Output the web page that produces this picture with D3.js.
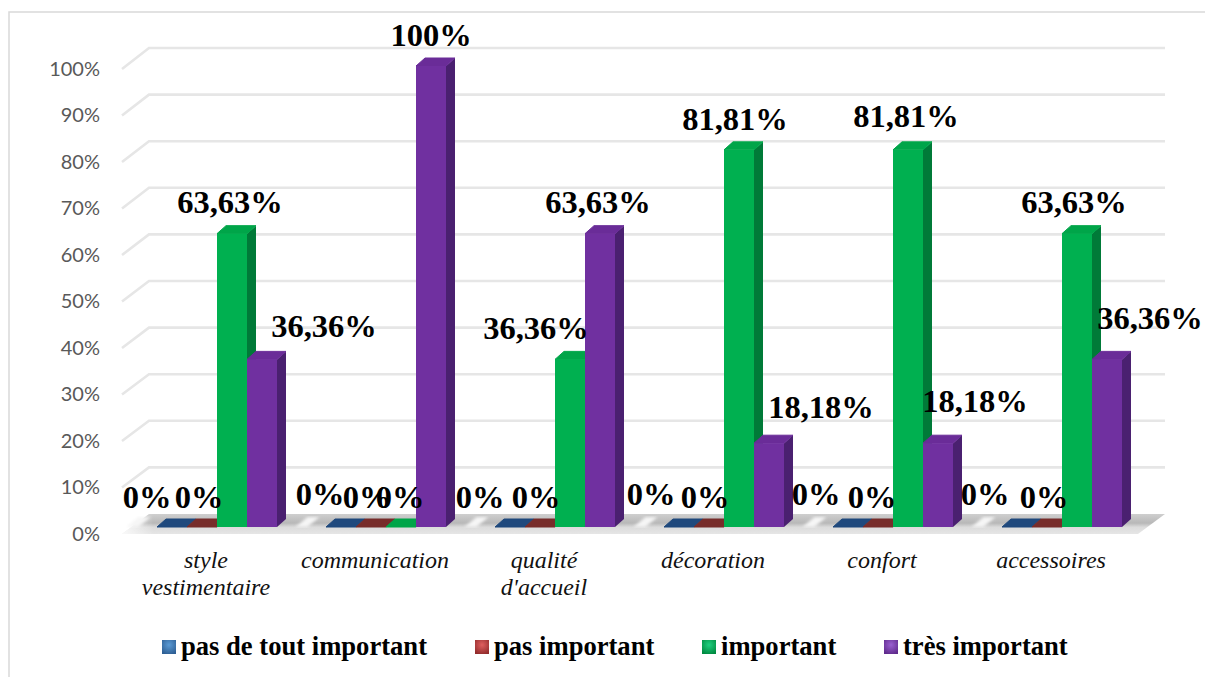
<!DOCTYPE html>
<html>
<head>
<meta charset="utf-8">
<script src="https://cdn.jsdelivr.net/npm/d3@7"></script>
<style>
  html, body { margin: 0; padding: 0; background: #fff; }
  svg { display: block; }
  .tick-y text { font-family: Lato, sans-serif; font-size: 20px; fill: #595959; }
  .cat text { font-family: "Liberation Serif", serif; font-style: italic; font-size: 24px; fill: #111; }
  .value { font-family: "Liberation Serif", serif; font-weight: bold; font-size: 32.5px; fill: #000; text-anchor: middle; }
  .legend text { font-family: "Liberation Serif", serif; font-weight: bold; font-size: 26.6px; fill: #000; }
</style>
</head>
<body>
<div id="chart"></div>
<script>
// Data
const categories = ['style vestimentaire', 'communication', "qualité d'accueil", 'décoration', 'confort', 'accessoires']
const seriesNames = ['pas de tout important', 'pas important', 'important', 'très important']
const pasDeToutImportant = [0, 0, 0, 0, 0, 0]
const pasImportant = [0, 0, 0, 0, 0, 0]
const important = [63.63, 0, 36.36, 81.81, 81.81, 63.63]
const tresImportant = [36.36, 100, 63.63, 18.18, 18.18, 36.36]
const yTicks = [0, 10, 20, 30, 40, 50, 60, 70, 80, 90, 100]

const allSeries = [pasDeToutImportant, pasImportant, important, tresImportant]

// Colours per series: front, side, top
const barColors = [
  { front: '#1f497d', side: '#17365d', top: '#1f497d' },
  { front: '#772c2a', side: '#5a1f1e', top: '#772c2a' },
  { front: '#00b050', side: '#007a38', top: '#00a549' },
  { front: '#7030a0', side: '#4a2070', top: '#6a2c98' }
]
const swatchLight = ['#5b9bd5', '#e06060', '#20d080', '#9a60d0']
const swatchDark = ['#2e5f94', '#922c2c', '#008a40', '#5f2a8c']

// Canvas
const width = 1205,
  height = 677

// 3d look of the plot box
const depth = { x: 27, y: 20 }
const barDepth = { x: 9, y: 8 }
const wallLeft = 149,
  wallRight = 1165

let svg = d3.select('#chart')
  .append('svg')
  .attr('width', width)
  .attr('height', height)

let defs = svg.append('defs')

// Scales
const wallY = d3.scaleLinear().domain([0, 100]).range([514, 48])
const frontY = d3.scaleLinear().domain([0, 100]).range([534, 69])
const barY = d3.scaleLinear().domain([0, 100]).range([527, 66])
const xBand = d3.scaleBand().domain(categories).range([132.5, 1146.5])
const xInner = d3.scaleBand().domain(d3.range(4)).range([24.5, 144.5])

// Outer frame
svg.append('path')
  .attr('d', `M9,${height} V12 H${width}`)
  .attr('fill', 'none')
  .attr('stroke', '#d9d9d9')
  .attr('stroke-width', 1.5)

// Gridlines on the wall and the slanted side
svg.append('g').selectAll('path')
  .data(yTicks.slice(1))
  .enter()
  .append('path')
  .attr('d', d => `M${wallLeft - depth.x},${frontY(d)} L${wallLeft},${wallY(d)} H${wallRight}`)
  .attr('fill', 'none')
  .attr('stroke', '#e6e6e6')
  .attr('stroke-width', 2.6)

// Floor
let floorFill = defs.append('linearGradient')
  .attr('id', 'floorFill')
  .attr('x1', 0).attr('x2', 0).attr('y1', 0).attr('y2', 1)
floorFill.append('stop').attr('offset', 0).attr('stop-color', '#cfcfcf')
floorFill.append('stop').attr('offset', 0.45).attr('stop-color', '#b8b8b8')
floorFill.append('stop').attr('offset', 0.66).attr('stop-color', '#dcdcdc')
floorFill.append('stop').attr('offset', 1).attr('stop-color', '#e6e6e6')

let floorEdge = defs.append('linearGradient')
  .attr('id', 'floorEdge')
  .attr('x1', 0).attr('x2', 1).attr('y1', 0).attr('y2', 0)
floorEdge.append('stop').attr('offset', 0).attr('stop-color', '#fff').attr('stop-opacity', 0.8)
floorEdge.append('stop').attr('offset', 0.03).attr('stop-color', '#fff').attr('stop-opacity', 0)
floorEdge.append('stop').attr('offset', 1).attr('stop-color', '#fff').attr('stop-opacity', 0)

defs.append('filter').attr('id', 'soft')
  .attr('x', '-30%').attr('width', '160%')
  .append('feGaussianBlur').attr('stdDeviation', 1.8)

const floorPoints = [
  [wallLeft - depth.x, frontY(0)],
  [wallLeft, wallY(0)],
  [wallRight, wallY(0)],
  [wallRight - depth.x, frontY(0)]
]
svg.append('polygon').attr('points', floorPoints.join(' ')).attr('fill', 'url(#floorFill)')
svg.append('polygon').attr('points', floorPoints.join(' ')).attr('fill', 'url(#floorEdge)')

// White glints across the floor, one at the start of each group
svg.append('g').selectAll('polygon')
  .data(categories)
  .enter()
  .append('polygon')
  .attr('points', d => {
    const x = xBand(d)
    return [[x - 6, barY(0)], [x + 6, wallY(0) + 3], [x + 18, wallY(0) + 3], [x + 6, barY(0)]].join(' ')
  })
  .attr('fill', '#f6f6f6')
  .attr('filter', 'url(#soft)')

// Y axis
svg.append('g')
  .attr('class', 'tick-y')
  .attr('transform', 'translate(100,0)')
  .call(d3.axisLeft(frontY).tickValues(yTicks).tickSize(0).tickPadding(0).tickFormat(d => d + '%'))
  .call(g => g.select('.domain').remove())

// Category labels, split over two lines where they were split
const catLines = {
  'style vestimentaire': ['style', 'vestimentaire'],
  "qualité d'accueil": ['qualité', "d'accueil"]
}
svg.append('g')
  .attr('class', 'cat')
  .attr('transform', 'translate(-11,0)')
  .selectAll('text')
  .data(categories)
  .enter()
  .append('text')
  .attr('text-anchor', 'middle')
  .attr('y', 568)
  .each(function (d) {
    const lines = catLines[d] || [d]
    d3.select(this).selectAll('tspan')
      .data(lines)
      .enter()
      .append('tspan')
      .attr('x', xBand(d) + xBand.bandwidth() / 2)
      .attr('dy', (l, i) => i ? 27 : 0)
      .text(l => l)
  })

// Bars
let barRows = []
allSeries.forEach((values, s) => {
  values.forEach((v, c) => {
    barRows.push({ s, c, v, x: xBand(categories[c]) + xInner(s) })
  })
})
const bw = xInner.bandwidth()

let bars = svg.append('g').selectAll('g')
  .data(barRows)
  .enter()
  .append('g')

bars.append('polygon')
  .attr('fill', d => barColors[d.s].side)
  .attr('points', d => [
    [d.x + bw, barY(d.v)],
    [d.x + bw + barDepth.x, barY(d.v) - barDepth.y],
    [d.x + bw + barDepth.x, barY(0) - barDepth.y],
    [d.x + bw, barY(0)]
  ].join(' '))

bars.append('polygon')
  .attr('fill', d => barColors[d.s].top)
  .attr('stroke', d => barColors[d.s].top)
  .attr('stroke-linejoin', 'round')
  .attr('points', d => [
    [d.x, barY(d.v)],
    [d.x + barDepth.x, barY(d.v) - barDepth.y],
    [d.x + bw + barDepth.x, barY(d.v) - barDepth.y],
    [d.x + bw, barY(d.v)]
  ].join(' '))

bars.append('rect')
  .attr('fill', d => barColors[d.s].front)
  .attr('x', d => d.x)
  .attr('y', d => barY(d.v))
  .attr('width', bw)
  .attr('height', d => barY(0) - barY(d.v))

// Value labels, moved by hand off the bars as they are in the layout
const labelNudge = [
  [[-25, -19], [-3, -19], [-2, -21], [62, -22]],
  [[-21, -22], [-4, -19], [-1, -19], [0, -20]],
  [[-30, -19], [-4, -19], [-34, -20], [-2, -21]],
  [[-28, -22], [-4, -19], [-4, -20], [52, -25]],
  [[-32, -22], [-6, -19], [-2, -23], [37, -31]],
  [[-32, -22], [-3, -19], [-3, -21], [43, -30]]
]
const formatValue = v => String(v).replace('.', ',') + '%'

svg.append('g').selectAll('text')
  .data(barRows)
  .enter()
  .append('text')
  .attr('class', 'value')
  .attr('x', d => d.x + bw / 2 + labelNudge[d.c][d.s][0])
  .attr('y', d => barY(d.v) + labelNudge[d.c][d.s][1])
  .text(d => formatValue(d.v))

// Legend
const legendX = [162, 475, 702, 884]
seriesNames.forEach((name, i) => {
  let grad = defs.append('radialGradient')
    .attr('id', 'swatch' + i)
    .attr('cy', 0.35).attr('r', 0.7)
  grad.append('stop').attr('offset', 0).attr('stop-color', swatchLight[i])
  grad.append('stop').attr('offset', 1).attr('stop-color', swatchDark[i])
})

let legend = svg.append('g')
  .attr('class', 'legend')
  .selectAll('g')
  .data(seriesNames)
  .enter()
  .append('g')
  .attr('transform', (d, i) => `translate(${legendX[i]},640)`)

legend.append('rect')
  .attr('width', 14)
  .attr('height', 14)
  .attr('fill', (d, i) => `url(#swatch${i})`)

legend.append('text')
  .attr('x', 19)
  .attr('y', 15)
  .text(d => d)
</script>
</body>
</html>
